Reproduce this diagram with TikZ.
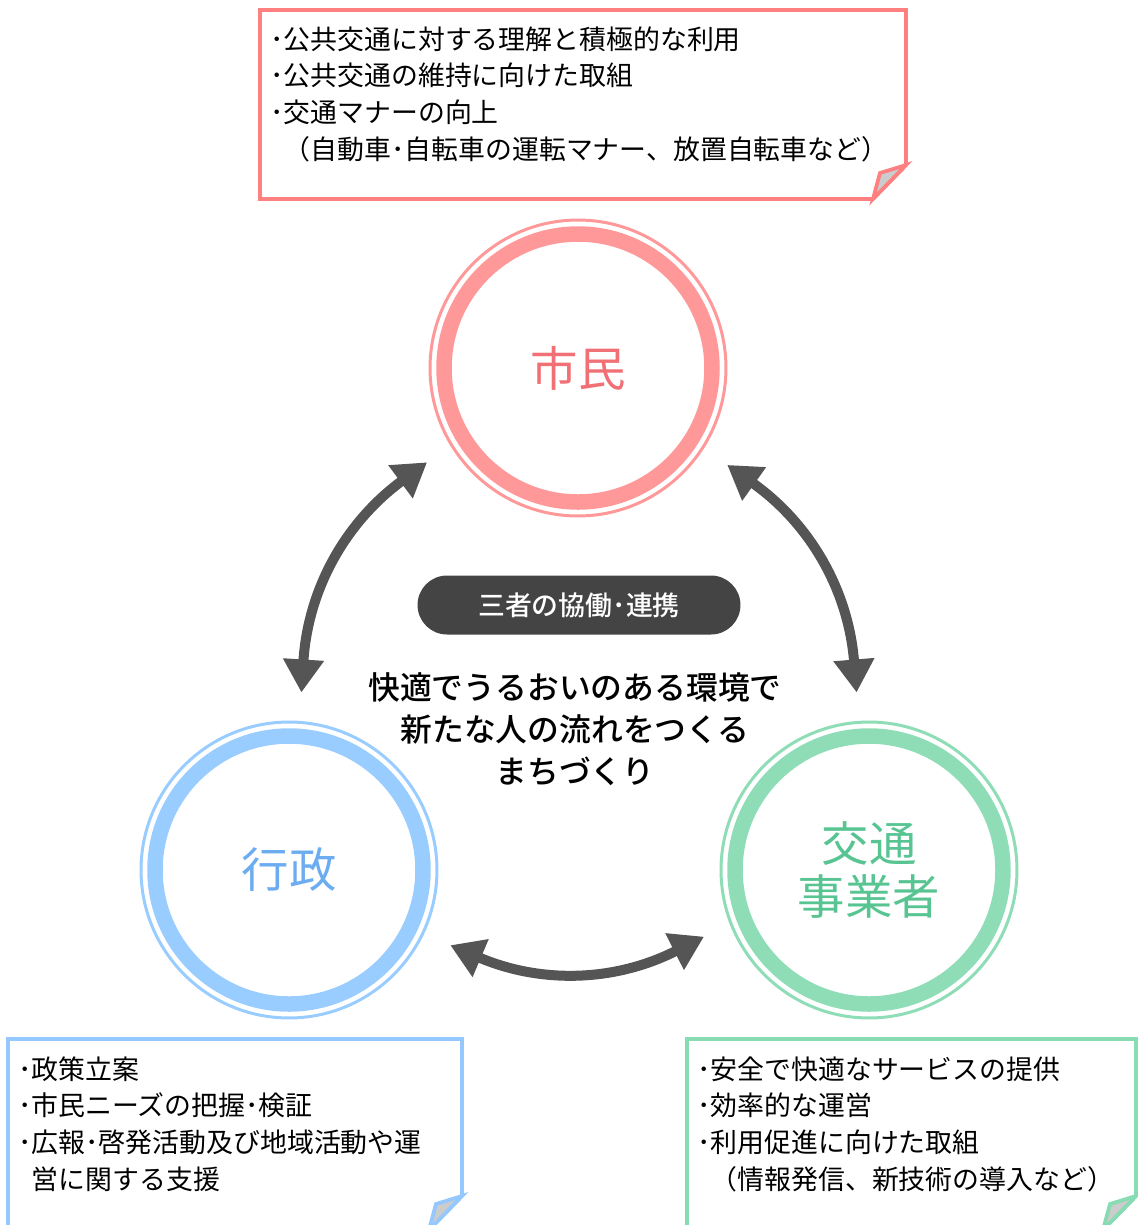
\documentclass[tikz,border=0pt]{standalone}
\usepackage{fontspec}
\setmainfont{Noto Sans CJK JP}
\IfFontExistsTF{Noto Sans CJK JP Medium}
    {\newfontfamily\medfont{Noto Sans CJK JP Medium}}
    {\newfontfamily\medfont{Noto Sans CJK JP}[FakeBold=1]}
\usetikzlibrary{arrows.meta,positioning}
\definecolor{pinkring}{RGB}{255,153,153}
\definecolor{pinkline}{RGB}{255,128,128}
\definecolor{pinktext}{RGB}{240,112,118}
\definecolor{bluering}{RGB}{153,204,255}
\definecolor{blueline}{RGB}{148,200,255}
\definecolor{bluetext}{RGB}{108,172,240}
\definecolor{greenring}{RGB}{142,221,183}
\definecolor{greenline}{RGB}{136,220,180}
\definecolor{greentext}{RGB}{88,196,146}
\definecolor{arrowgray}{RGB}{85,85,85}
\definecolor{badgegray}{RGB}{68,68,68}
\definecolor{flapgray}{RGB}{204,204,204}

\begin{document}
\begin{tikzpicture}[x=0.02cm,y=0.02cm,
    actor/.style={circle,draw=#1,line width=0.06cm,minimum size=5.92cm,inner sep=0pt,outer sep=0.6cm,
                  align=center,font=\fontsize{27pt}{30.6pt}\selectfont},
    ring/.style={draw=#1,line width=0.31cm},
    memo/.style={anchor=north west,inner sep=0pt,align=left,font=\fontsize{15.3pt}{21pt}\selectfont},
    link/.style={draw=arrowgray,line width=0.2cm,
                 {Triangle[length=0.66cm,width=0.78cm]}-{Triangle[length=0.66cm,width=0.78cm]}}]

    \useasboundingbox (0,0) rectangle (1138,-1225);

    % memo boxes, folded at the lower right corner
    \foreach \l/\t/\r/\b/\c in {260/10/906/199/pinkline, 8/1039/462/1230/blueline, 687/1039/1136/1230/greenline} {
        \draw[draw=\c,line width=0.075cm] (\l,-\t) -- (\r,-\t) -- (\r,-\b+34) -- (\r-33,-\b) -- (\l,-\b) -- cycle;
        \draw[draw=\c,fill=flapgray,line width=0.075cm] (\r,-\b+34) -- (\r-26,-\b+26) -- (\r-33,-\b) -- cycle;
    }

    \node[memo] (shiminmemo) at (270,-26) {･公共交通に対する理解と積極的な利用\\･公共交通の維持に向けた取組\\･交通マナーの向上\\\hspace*{0.5em}（自動車･自転車の運転マナー、放置自転車など）};
    \node[memo] (gyoseimemo) at (18,-1056) {･政策立案\\･市民ニーズの把握･検証\\･広報･啓発活動及び地域活動や運\\\hspace*{0.5em}営に関する支援};
    \node[memo] (kotsumemo) at (697,-1056) {･安全で快適なサービスの提供\\･効率的な運営\\･利用促進に向けた取組\\\hspace*{0.5em}（情報発信、新技術の導入など）};

    % the three actors
    \node[actor=pinkring,text=pinktext] (shimin) at (578,-368) {市民};
    \node[actor=bluering,text=bluetext] (gyosei) at (289,-870) {行政};
    \node[actor=greenring,text=greentext] (kotsu) at (869,-870) {交通\\事業者};
    \draw[ring=pinkring] (shimin.center) circle (134);
    \draw[ring=bluering] (gyosei.center) circle (134);
    \draw[ring=greenring] (kotsu.center) circle (134);

    \draw[link] (gyosei.86.5) to[bend left=25] (shimin.212.7);
    \draw[link] (shimin.327.3) to[bend left=25] (kotsu.94);
    \draw[link] (gyosei.335) to[bend right=25] (kotsu.202.2);

    \node[fill=badgegray,text=white,rounded corners=0.59cm,minimum width=6.46cm,minimum height=1.18cm,
          font=\fontsize{15.3pt}{18pt}\medfont] (kyodo) at (579,-605) {三者の協働･連携};
    \node[font=\fontsize{18.1pt}{23.8pt}\medfont,align=center] (goal) at (575,-729)
        {快適でうるおいのある環境で\\新たな人の流れをつくる\\まちづくり};
\end{tikzpicture}
\end{document}
